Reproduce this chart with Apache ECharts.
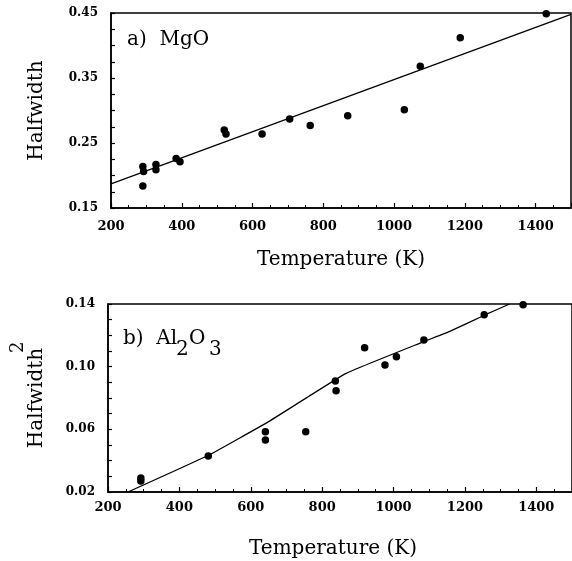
<!DOCTYPE html>
<html>
<head>
<meta charset="utf-8">
<script src="https://cdn.jsdelivr.net/npm/echarts@6/dist/echarts.min.js"></script>
<style>
  html, body { margin: 0; padding: 0; background: #fff; }
  #charts { width: 572px; height: 561px; }
</style>
</head>
<body>
<div id="charts"></div>
<script>
// a) MgO : temperature (K) vs halfwidth
var mgoTemp = [290, 292, 290, 327, 327, 384, 395, 520, 525, 627, 705, 763, 869, 1029, 1074, 1187, 1430];
var mgoHalf = [0.214, 0.206, 0.184, 0.217, 0.209, 0.226, 0.221, 0.270, 0.264, 0.264, 0.287, 0.277, 0.292, 0.301, 0.368, 0.412, 0.449];
var mgoFitTemp = [200, 1500];
var mgoFitHalf = [0.187, 0.448];

// b) Al2O3 : temperature (K) vs halfwidth^2
var alTemp = [292, 292, 481, 641, 641, 754, 837, 839, 919, 976, 1008, 1085, 1254, 1363];
var alHalf2 = [0.029, 0.027, 0.043, 0.0585, 0.0532, 0.0585, 0.0908, 0.0847, 0.112, 0.101, 0.1064, 0.117, 0.1332, 0.1395];
var alFitTemp = [256, 483, 650, 867, 1085, 1159, 1256, 1325];
var alFitHalf2 = [0.02, 0.0436, 0.0649, 0.0957, 0.116, 0.1227, 0.133, 0.14];

// tick labels shown on the y axes
var mgoYLabels = [0.15, 0.25, 0.35, 0.45];
var alYLabels = [0.02, 0.06, 0.10, 0.14];

function pairs(xs, ys) {
    return xs.map(function(x, i) { return [x, ys[i]]; });
}

var serif = 'DejaVu Serif';
var black = '#000';

function xAxisFor(grid, labelMargin, nameGap, namePad) {
    return {
        type: 'value', gridIndex: grid, min: 200, max: 1500, interval: 200,
        axisLine: { lineStyle: { color: black, width: 1.5 } },
        axisTick: { inside: true, length: 5, lineStyle: { color: black, width: 1.2 } },
        minorTick: { show: true, splitNumber: 4, length: 3, lineStyle: { color: black, width: 1 } },
        splitLine: { show: false },
        axisLabel: {
            color: black, fontFamily: serif, fontWeight: 'bold', fontSize: 13, margin: labelMargin, showMaxLabel: false,
            formatter: function(v) { return String(v); }
        },
        name: 'Temperature (K)', nameLocation: 'middle', nameGap: nameGap,
        nameTextStyle: { color: black, fontFamily: serif, fontSize: 20, padding: namePad }
    };
}

function yAxisFor(grid, min, max, step, shown, nameGap) {
    return {
        type: 'value', gridIndex: grid, min: min, max: max, interval: step,
        axisLine: { lineStyle: { color: black, width: 1.5 } },
        axisTick: { inside: true, length: 4, lineStyle: { color: black, width: 1.2 } },
        minorTick: { show: true, splitNumber: 2, length: 4, lineStyle: { color: black, width: 1.2 } },
        splitLine: { show: false },
        axisLabel: {
            color: black, fontFamily: serif, fontWeight: 'bold', fontSize: 12, margin: 13,
            formatter: function(v) {
                for (var i = 0; i < shown.length; i++) {
                    if (Math.abs(shown[i] - v) < 1e-6) return v.toFixed(2);
                }
                return '';
            }
        },
        name: 'Halfwidth', nameLocation: 'middle', nameRotate: 90, nameGap: nameGap,
        nameTextStyle: { color: black, fontFamily: serif, fontSize: 20 }
    };
}

function textAt(x, y, str, size, rot) {
    return {
        type: 'text', x: x, y: y, rotation: rot || 0,
        style: { text: str, fill: black, font: size + 'px "' + serif + '"', textAlign: 'left', textVerticalAlign: 'middle' }
    };
}

var dot = { color: black, opacity: 1 };

var chart = echarts.init(document.getElementById('charts'));
chart.setOption({
    backgroundColor: '#fff',
    animation: false,
    grid: [
        { left: 111, top: 13, width: 460, height: 195, show: true, borderColor: black, borderWidth: 1.5 },
        { left: 108, top: 304, width: 468, height: 188, show: true, borderColor: black, borderWidth: 1.5 }
    ],
    xAxis: [xAxisFor(0, 12, 42, [0, 0, 0, 0]), xAxisFor(1, 9, 47, [0, 14, 0, 0])],
    yAxis: [yAxisFor(0, 0.15, 0.45, 0.05, mgoYLabels, 64), yAxisFor(1, 0.02, 0.14, 0.02, alYLabels, 61)],
    series: [
        { type: 'line', xAxisIndex: 0, yAxisIndex: 0, data: pairs(mgoFitTemp, mgoFitHalf), showSymbol: false, lineStyle: { color: black, width: 1.3 } },
        { type: 'scatter', xAxisIndex: 0, yAxisIndex: 0, data: pairs(mgoTemp, mgoHalf), symbolSize: 7.5, itemStyle: dot },
        { type: 'line', xAxisIndex: 1, yAxisIndex: 1, data: pairs(alFitTemp, alFitHalf2), showSymbol: false, smooth: 0.1, lineStyle: { color: black, width: 1.3 } },
        { type: 'scatter', xAxisIndex: 1, yAxisIndex: 1, data: pairs(alTemp, alHalf2), symbolSize: 7.5, itemStyle: dot }
    ],
    graphic: [
        textAt(127, 40, 'a)  MgO', 20),
        textAt(123, 339, 'b)  Al', 20),
        textAt(176, 350, '2', 20),
        textAt(189, 339, 'O', 20),
        textAt(209, 350, '3', 20),
        // superscript of Halfwidth^2, rotated with the axis name
        textAt(18, 353, '2', 18, Math.PI / 2)
    ]
});
</script>
</body>
</html>
